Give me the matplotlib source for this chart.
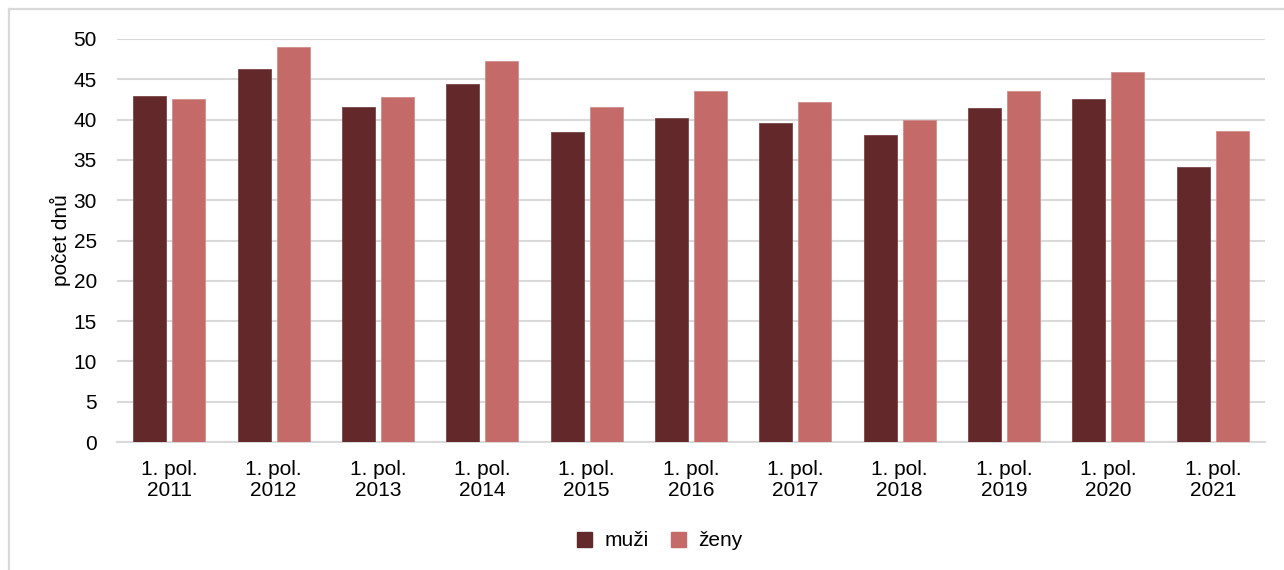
import matplotlib
matplotlib.use("Agg")
import matplotlib.pyplot as plt
import numpy as np
from matplotlib.lines import Line2D

plt.rcParams['font.family'] = ['Liberation Sans', 'DejaVu Sans']

categories = ["1. pol.\n2011", "1. pol.\n2012", "1. pol.\n2013", "1. pol.\n2014", "1. pol.\n2015",
              "1. pol.\n2016", "1. pol.\n2017", "1. pol.\n2018", "1. pol.\n2019", "1. pol.\n2020",
              "1. pol.\n2021"]
muzi = [42.9, 46.3, 41.6, 44.4, 38.5, 40.2, 39.6, 38.1, 41.5, 42.5, 34.1]
zeny = [42.6, 49.0, 42.8, 47.3, 41.6, 43.5, 42.2, 39.9, 43.6, 45.9, 38.6]
series_names = ["muži", "ženy"]
colors = ["#632829", "#C46A69"]
yticks = [0, 5, 10, 15, 20, 25, 30, 35, 40, 45, 50]

fig = plt.figure(figsize=(12.84, 5.70), dpi=100)
ax = fig.add_axes([117/1284, 1-442/570, 1148/1284, 403/570])

x = np.arange(len(categories))
w = 0.316
off = 0.187
ax.bar(x - off, muzi, width=w, color=colors[0], edgecolor="#7a4546", linewidth=0.6,
       label=series_names[0], zorder=3)
ax.bar(x + off, zeny, width=w, color=colors[1], edgecolor="#d08e8d", linewidth=0.6,
       label=series_names[1], zorder=3)

ax.set_xlim(-0.5, len(categories) - 0.5)
ax.set_ylim(0, 50)
ax.set_yticks(yticks)
ax.set_yticklabels([str(t) for t in yticks])
ax.set_xticks(x)
ax.set_xticklabels(categories, linespacing=1.15)
ax.tick_params(axis='both', length=0, labelsize=15, colors="#000000")
ax.tick_params(axis='y', pad=14.4)
ax.tick_params(axis='x', pad=13)
ax.grid(axis='y', color="#D9D9D9", linewidth=1.5, zorder=0)
ax.set_axisbelow(True)
for s in ['top', 'right', 'left']:
    ax.spines[s].set_visible(False)
ax.spines['bottom'].set_color("#D9D9D9")
ax.spines['bottom'].set_linewidth(1.5)
ax.set_ylabel("počet dnů", fontsize=15, labelpad=2)

handles = [plt.Rectangle((0, 0), 1, 1, color=c) for c in colors]
fig.legend(handles, series_names, loc='center', bbox_to_anchor=(660/1284, 1-541/570),
           ncol=2, frameon=False, fontsize=15, handlelength=0.7, handleheight=0.7,
           handletextpad=0.6, columnspacing=1.1)

# outer chart frame (partially visible)
fig.add_artist(Line2D([9/1284, 1], [1-9/570, 1-9/570], transform=fig.transFigure,
                      color="#D9D9D9", linewidth=1.6))
fig.add_artist(Line2D([9/1284, 9/1284], [0, 1-9/570], transform=fig.transFigure,
                      color="#D9D9D9", linewidth=1.6))

fig.savefig("out.png", dpi=100)
